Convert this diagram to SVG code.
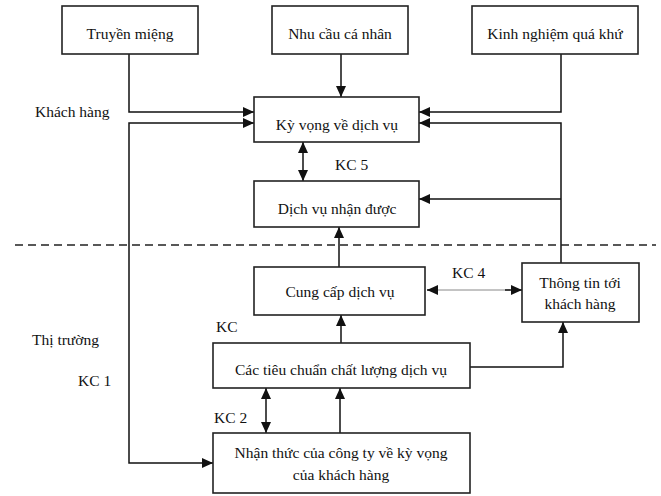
<svg xmlns="http://www.w3.org/2000/svg" width="661" height="496" viewBox="0 0 661 496">
  <defs>
    <marker id="arrow" viewBox="0 0 11 10" markerUnits="userSpaceOnUse" markerWidth="11" markerHeight="10" refX="11" refY="5" orient="auto-start-reverse">
      <path d="M0,0 L11,5 L0,10 z" fill="#111"/>
    </marker>
    <style>
      .box { fill: #fff; stroke: #222; stroke-width: 1.6; }
      .lbl { font-family: "Liberation Serif", "Times New Roman", serif; font-size: 15.5px; fill: #111; }
      .mid { text-anchor: middle; }
      .link { fill: none; stroke: #111; stroke-width: 1.5; }
      .thin { fill: none; stroke: #888; stroke-width: 1; }
      .dash { fill: none; stroke: #222; stroke-width: 1.5; stroke-dasharray: 8 5; }
    </style>
  </defs>

  <rect width="661" height="496" fill="#fff"/>

  <!-- connectors -->
  <g id="connectors">
    <!-- inputs to expected service -->
    <path class="link" d="M129,54 V112 H254" marker-end="url(#arrow)"/>
    <path class="link" d="M341,54 V97" marker-end="url(#arrow)"/>
    <path class="link" d="M561,54 V112 H419" marker-end="url(#arrow)"/>
    <!-- communication to customers feeds expectation and perception -->
    <path class="link" d="M561,263 V123 H419" marker-end="url(#arrow)"/>
    <path class="link" d="M561,199 H419" marker-end="url(#arrow)"/>
    <!-- KC 1 -->
    <path class="link" d="M254,123 H129 V463 H213" marker-start="url(#arrow)" marker-end="url(#arrow)"/>
    <!-- KC 5 -->
    <path class="link" d="M303,142 V181" marker-start="url(#arrow)" marker-end="url(#arrow)"/>
    <!-- delivery to perceived service -->
    <path class="link" d="M339,267 V227" marker-end="url(#arrow)"/>
    <!-- KC 4 -->
    <path class="thin" d="M437,290 H510"/>
    <path class="link" d="M437,290 H427" marker-end="url(#arrow)"/>
    <path class="link" d="M505,290 H522" marker-end="url(#arrow)"/>
    <!-- KC 3: standards to delivery -->
    <path class="link" d="M341,343 V315" marker-end="url(#arrow)"/>
    <path class="link" d="M470,367 H563 V322" marker-end="url(#arrow)"/>
    <!-- KC 2 -->
    <path class="link" d="M266,388 V433" marker-start="url(#arrow)" marker-end="url(#arrow)"/>
    <path class="link" d="M340,433 V388" marker-end="url(#arrow)"/>
    <!-- boundary between customer and market -->
    <path class="dash" d="M15,245 H656"/>
  </g>

  <g id="truyen-mieng">
    <rect class="box" x="62" y="6" width="136" height="48"/>
    <text class="lbl mid" x="130" y="39">Truyền miệng</text>
  </g>
  <g id="nhu-cau">
    <rect class="box" x="272" y="6" width="136" height="48"/>
    <text class="lbl mid" x="340" y="39">Nhu cầu cá nhân</text>
  </g>
  <g id="kinh-nghiem">
    <rect class="box" x="472" y="6" width="166" height="48"/>
    <text class="lbl mid" x="555" y="39">Kinh nghiệm quá khứ</text>
  </g>

  <text class="lbl" x="35" y="117">Khách hàng</text>

  <g id="ky-vong">
    <rect class="box" x="254" y="97" width="165" height="45"/>
    <text class="lbl mid" x="337" y="130">Kỳ vọng về dịch vụ</text>
  </g>

  <text class="lbl" x="335" y="170">KC 5</text>

  <g id="dich-vu-nhan-duoc">
    <rect class="box" x="254" y="181" width="165" height="46"/>
    <text class="lbl mid" x="337" y="214">Dịch vụ nhận được</text>
  </g>

  <g id="cung-cap">
    <rect class="box" x="254" y="267" width="171" height="48"/>
    <text class="lbl mid" x="340" y="297">Cung cấp dịch vụ</text>
  </g>

  <text class="lbl" x="452" y="278">KC 4</text>

  <g id="thong-tin">
    <rect class="box" x="522" y="263" width="117" height="59"/>
    <text class="lbl mid" x="580" y="288">Thông tin tới</text>
    <text class="lbl mid" x="580" y="309">khách hàng</text>
  </g>

  <text class="lbl" x="216" y="332">KC</text>
  <text class="lbl" x="32" y="345">Thị trường</text>
  <text class="lbl" x="78" y="386">KC 1</text>

  <g id="tieu-chuan">
    <rect class="box" x="213" y="343" width="257" height="45"/>
    <text class="lbl mid" x="341" y="375">Các tiêu chuẩn chất lượng dịch vụ</text>
  </g>

  <text class="lbl" x="214" y="423">KC 2</text>

  <g id="nhan-thuc">
    <rect class="box" x="213" y="433" width="257" height="60"/>
    <text class="lbl mid" x="341" y="458">Nhận thức của công ty về kỳ vọng</text>
    <text class="lbl mid" x="341" y="480">của khách hàng</text>
  </g>
</svg>
